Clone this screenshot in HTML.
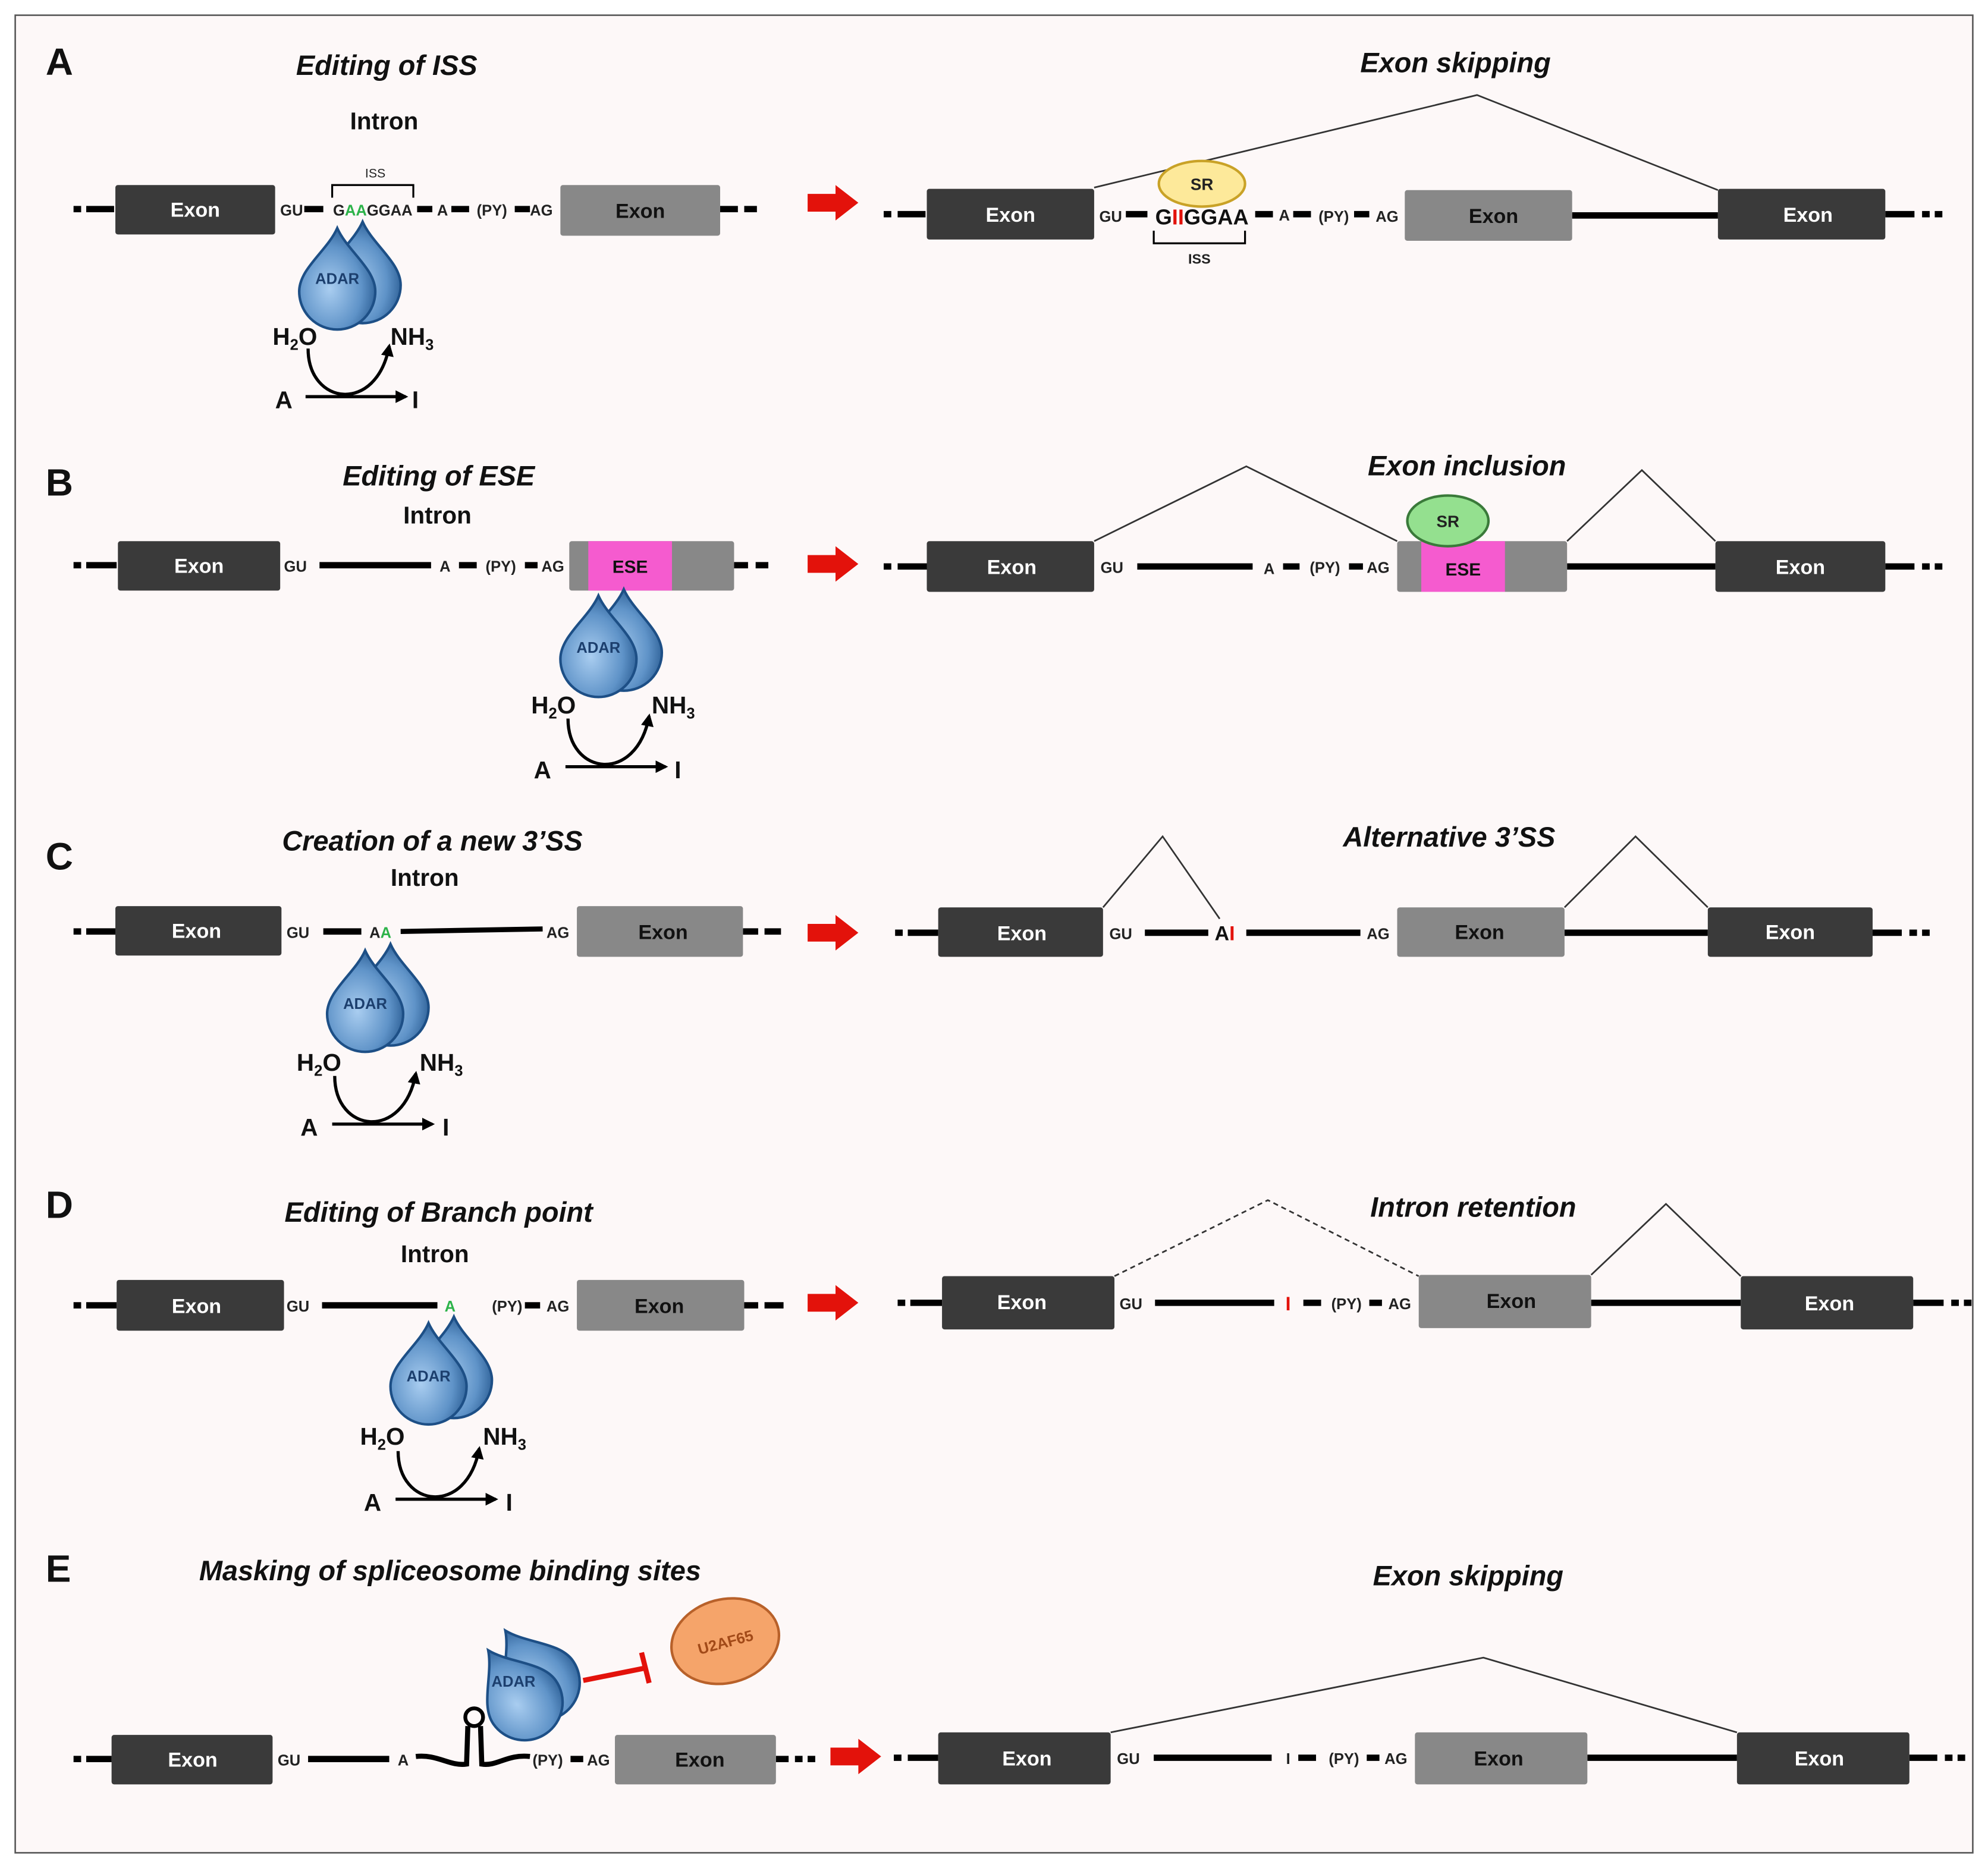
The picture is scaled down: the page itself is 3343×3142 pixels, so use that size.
<!DOCTYPE html>
<html><head><meta charset="utf-8"><style>
html,body{margin:0;padding:0;background:#fff;}
svg{display:block;}
text{font-family:"Liberation Sans",sans-serif;}
.t{font-weight:bold;font-style:italic;font-size:22px;text-anchor:middle;fill:#111;}
.h{font-weight:bold;font-size:19px;text-anchor:middle;fill:#111;}
.L{font-weight:bold;font-size:30px;fill:#111;}
.s{font-weight:bold;font-size:12px;text-anchor:middle;fill:#222;}
.ex{font-weight:bold;font-size:16px;text-anchor:middle;fill:#fff;}
.eg{font-weight:bold;font-size:16px;text-anchor:middle;fill:#111;}
.r{font-weight:bold;font-size:19px;fill:#111;}
.ad{font-weight:bold;font-size:12px;text-anchor:middle;fill:#1c3f6e;}
</style></head><body>
<svg width="3343" height="3142" viewBox="0 0 1568 1474" preserveAspectRatio="none" xmlns="http://www.w3.org/2000/svg">
<defs>
<radialGradient id="dg" cx="0.4" cy="0.6" r="0.7">
<stop offset="0" stop-color="#a9cdf0"/><stop offset="0.6" stop-color="#5f93c8"/><stop offset="1" stop-color="#1d4f86"/></radialGradient>
<path id="drop" d="M0,-40 C8,-22 30,-8 30,10 A30,30 0 1,1 -30,10 C-30,-8 -8,-22 0,-40 Z" fill="url(#dg)" stroke="#1d4f86" stroke-width="2"/>
<g id="adar"><use href="#drop" transform="translate(20,-5)"/><use href="#drop"/></g>
<marker id="ah" markerWidth="10" markerHeight="10" refX="8" refY="5" orient="auto" markerUnits="userSpaceOnUse"><path d="M0,0 L10,5 L0,10 Z" fill="#000"/></marker>
<g id="rx">
<line x1="16" y1="-2" x2="95" y2="-2" stroke="#000" stroke-width="2.5" marker-end="url(#ah)"/>
<path d="M18,-40 C18,5 72,12 82,-42" fill="none" stroke="#000" stroke-width="2.5" marker-end="url(#ah)"/>
</g>
<path id="rarr" d="M0,-7 L22,-7 L22,-14 L40,0 L22,14 L22,7 L0,7 Z" fill="#e3120b"/>
</defs>
<rect x="0" y="0" width="1568" height="1474" fill="#fff"/>
<rect x="12" y="12" width="1544" height="1450" fill="#fdf8f8" stroke="#555" stroke-width="1.2"/>

<g font-family="Liberation Sans">
<text class="L" x="36" y="59">A</text>
<text class="L" x="36" y="391">B</text>
<text class="L" x="36" y="686">C</text>
<text class="L" x="36" y="961">D</text>
<text class="L" x="36" y="1248">E</text>

<!-- ============ A ============ -->
<text class="t" x="305" y="59">Editing of ISS</text>
<text class="h" x="303" y="102">Intron</text>
<g stroke="#000" stroke-width="5">
<line x1="58" y1="165" x2="64" y2="165"/><line x1="68" y1="165" x2="90" y2="165"/>
<line x1="240" y1="165" x2="255" y2="165"/><line x1="329" y1="165" x2="341" y2="165"/>
<line x1="356" y1="165" x2="370" y2="165"/><line x1="406" y1="165" x2="418" y2="165"/>
<line x1="568" y1="165" x2="582" y2="165"/><line x1="587" y1="165" x2="597" y2="165"/>
</g>
<rect x="91" y="146" width="126" height="39" rx="2" fill="#3a3a3a"/><text class="ex" x="154" y="171">Exon</text>
<rect x="442" y="146" width="126" height="40" rx="2" fill="#888"/><text class="eg" x="505" y="172">Exon</text>
<use href="#adar" transform="translate(266,220)"/><text class="ad" x="266" y="224">ADAR</text>
<text class="s" x="230" y="170">GU</text>
<text class="s" x="294" y="170"><tspan>G</tspan><tspan fill="#2db34a">AA</tspan><tspan>GGAA</tspan></text>
<text class="s" x="349" y="170">A</text><text class="s" x="388" y="170">(PY)</text><text class="s" x="427" y="170">AG</text>
<path d="M262,156 V146 H326 V156" fill="none" stroke="#000" stroke-width="1.5"/>
<text class="s" x="296" y="140" style="font-size:10px;font-weight:normal">ISS</text>
<use href="#rx" transform="translate(225,315)"/>
<text class="r" x="217" y="322">A</text><text class="r" x="325" y="322">I</text>
<text class="r" x="215" y="272">H<tspan font-size="12" dy="4">2</tspan><tspan dy="-4">O</tspan></text>
<text class="r" x="308" y="272">NH<tspan font-size="12" dy="4">3</tspan></text>
<use href="#rarr" transform="translate(637,160)"/>

<text class="t" x="1148" y="57">Exon skipping</text>
<polyline points="863,148 1165,75 1355,150" fill="none" stroke="#333" stroke-width="1.3"/>
<g stroke="#000" stroke-width="5">
<line x1="697" y1="169" x2="703" y2="169"/><line x1="708" y1="169" x2="730" y2="169"/>
<line x1="888" y1="169" x2="905" y2="169"/><line x1="990" y1="169" x2="1004" y2="169"/>
<line x1="1020" y1="169" x2="1034" y2="169"/><line x1="1068" y1="169" x2="1080" y2="169"/>
<line x1="1240" y1="170" x2="1355" y2="170"/>
<line x1="1487" y1="169" x2="1510" y2="169"/><line x1="1516" y1="169" x2="1522" y2="169"/><line x1="1526" y1="169" x2="1532" y2="169"/>
</g>
<rect x="731" y="149" width="132" height="40" rx="2" fill="#3a3a3a"/><text class="ex" x="797" y="175">Exon</text>
<rect x="1108" y="150" width="132" height="40" rx="2" fill="#888"/><text class="eg" x="1178" y="176">Exon</text>
<rect x="1355" y="149" width="132" height="40" rx="2" fill="#3a3a3a"/><text class="ex" x="1426" y="175">Exon</text>
<text class="s" x="876" y="175">GU</text>
<text x="948" y="177" style="font-weight:bold;font-size:17px;text-anchor:middle;fill:#111">G<tspan fill="#e3120b">II</tspan>GGAA</text>
<text class="s" x="1013" y="174">A</text><text class="s" x="1052" y="175">(PY)</text><text class="s" x="1094" y="175">AG</text>
<path d="M910,182 V192 H982 V182" fill="none" stroke="#000" stroke-width="1.5"/>
<text class="s" x="946" y="208" style="font-size:11px">ISS</text>
<ellipse cx="948" cy="145" rx="34" ry="18" fill="#fde99a" stroke="#c9a227" stroke-width="2"/>
<text class="s" x="948" y="150" style="font-size:13px">SR</text>

<!-- ============ B ============ -->
<text class="t" x="346" y="383">Editing of ESE</text>
<text class="h" x="345" y="413">Intron</text>
<g stroke="#000" stroke-width="5">
<line x1="58" y1="446" x2="64" y2="446"/><line x1="68" y1="446" x2="92" y2="446"/>
<line x1="252" y1="446" x2="340" y2="446"/><line x1="362" y1="446" x2="376" y2="446"/>
<line x1="414" y1="446" x2="424" y2="446"/>
<line x1="579" y1="446" x2="590" y2="446"/><line x1="596" y1="446" x2="606" y2="446"/>
</g>
<rect x="93" y="427" width="128" height="39" rx="2" fill="#3a3a3a"/><text class="ex" x="157" y="452">Exon</text>
<rect x="449" y="427" width="130" height="39" rx="2" fill="#888"/>
<rect x="464" y="427" width="66" height="39" fill="#f55bcf"/><text class="eg" x="497" y="452" style="font-size:14px">ESE</text>
<text class="s" x="233" y="451">GU</text><text class="s" x="351" y="451">A</text>
<text class="s" x="395" y="451">(PY)</text><text class="s" x="436" y="451">AG</text>
<use href="#adar" transform="translate(472,510)"/><text class="ad" x="472" y="515">ADAR</text>
<use href="#rx" transform="translate(430,607)"/>
<text class="r" x="421" y="614">A</text><text class="r" x="532" y="614">I</text>
<text class="r" x="419" y="563">H<tspan font-size="12" dy="4">2</tspan><tspan dy="-4">O</tspan></text>
<text class="r" x="514" y="563">NH<tspan font-size="12" dy="4">3</tspan></text>
<use href="#rarr" transform="translate(637,445)"/>

<text class="t" x="1157" y="375">Exon inclusion</text>
<polyline points="863,427 983,368 1102,427" fill="none" stroke="#333" stroke-width="1.3"/>
<polyline points="1236,427 1295,371 1353,427" fill="none" stroke="#333" stroke-width="1.3"/>
<g stroke="#000" stroke-width="5">
<line x1="697" y1="447" x2="703" y2="447"/><line x1="708" y1="447" x2="731" y2="447"/>
<line x1="897" y1="447" x2="988" y2="447"/><line x1="1012" y1="447" x2="1025" y2="447"/>
<line x1="1064" y1="447" x2="1075" y2="447"/>
<line x1="1236" y1="447" x2="1353" y2="447"/>
<line x1="1487" y1="447" x2="1510" y2="447"/><line x1="1516" y1="447" x2="1522" y2="447"/><line x1="1526" y1="447" x2="1532" y2="447"/>
</g>
<rect x="731" y="427" width="132" height="40" rx="2" fill="#3a3a3a"/><text class="ex" x="798" y="453">Exon</text>
<rect x="1102" y="427" width="134" height="40" rx="2" fill="#888"/>
<rect x="1121" y="427" width="66" height="40" fill="#f55bcf"/><text class="eg" x="1154" y="454" style="font-size:14px">ESE</text>
<rect x="1353" y="427" width="134" height="40" rx="2" fill="#3a3a3a"/><text class="ex" x="1420" y="453">Exon</text>
<text class="s" x="877" y="452">GU</text><text class="s" x="1001" y="453">A</text>
<text class="s" x="1045" y="452">(PY)</text><text class="s" x="1087" y="452">AG</text>
<ellipse cx="1142" cy="411" rx="32" ry="20" fill="#94e08f" stroke="#3a7a3a" stroke-width="2"/>
<text class="s" x="1142" y="416" style="font-size:13px">SR</text>

<!-- ============ C ============ -->
<text class="t" x="341" y="671">Creation of a new 3’SS</text>
<text class="h" x="335" y="699">Intron</text>
<g stroke="#000" stroke-width="5">
<line x1="58" y1="735" x2="64" y2="735"/><line x1="68" y1="735" x2="91" y2="735"/>
<line x1="255" y1="735" x2="285" y2="735"/>
<line x1="586" y1="735" x2="598" y2="735"/><line x1="603" y1="735" x2="616" y2="735"/>
</g>
<line x1="316" y1="735" x2="428" y2="733" stroke="#000" stroke-width="4"/>
<rect x="91" y="715" width="131" height="39" rx="2" fill="#3a3a3a"/><text class="ex" x="155" y="740">Exon</text>
<rect x="455" y="715" width="131" height="40" rx="2" fill="#888"/><text class="eg" x="523" y="741">Exon</text>
<use href="#adar" transform="translate(288,790)"/><text class="ad" x="288" y="796">ADAR</text>
<text class="s" x="235" y="740">GU</text>
<text class="s" x="300" y="740">A<tspan fill="#2db34a">A</tspan></text>
<text class="s" x="440" y="740">AG</text>
<use href="#rx" transform="translate(246,889)"/>
<text class="r" x="237" y="896">A</text><text class="r" x="349" y="896">I</text>
<text class="r" x="234" y="845">H<tspan font-size="12" dy="4">2</tspan><tspan dy="-4">O</tspan></text>
<text class="r" x="331" y="845">NH<tspan font-size="12" dy="4">3</tspan></text>
<use href="#rarr" transform="translate(637,736)"/>

<text class="t" x="1143" y="668">Alternative 3’SS</text>
<polyline points="870,716 917,660 962,725" fill="none" stroke="#333" stroke-width="1.3"/>
<polyline points="1234,716 1290,660 1347,716" fill="none" stroke="#333" stroke-width="1.3"/>
<g stroke="#000" stroke-width="5">
<line x1="706" y1="736" x2="712" y2="736"/><line x1="716" y1="736" x2="740" y2="736"/>
<line x1="903" y1="736" x2="953" y2="736"/><line x1="983" y1="736" x2="1073" y2="736"/>
<line x1="1234" y1="736" x2="1347" y2="736"/>
<line x1="1477" y1="736" x2="1500" y2="736"/><line x1="1506" y1="736" x2="1512" y2="736"/><line x1="1516" y1="736" x2="1522" y2="736"/>
</g>
<rect x="740" y="716" width="130" height="39" rx="2" fill="#3a3a3a"/><text class="ex" x="806" y="742">Exon</text>
<rect x="1102" y="716" width="132" height="39" rx="2" fill="#888"/><text class="eg" x="1167" y="741">Exon</text>
<rect x="1347" y="716" width="130" height="39" rx="2" fill="#3a3a3a"/><text class="ex" x="1412" y="741">Exon</text>
<text class="s" x="884" y="741">GU</text>
<text x="966" y="742" style="font-weight:bold;font-size:16px;text-anchor:middle;fill:#111">A<tspan fill="#e3120b">I</tspan></text>
<text class="s" x="1087" y="741">AG</text>

<!-- ============ D ============ -->
<text class="t" x="346" y="964">Editing of Branch point</text>
<text class="h" x="343" y="996">Intron</text>
<g stroke="#000" stroke-width="5">
<line x1="58" y1="1030" x2="64" y2="1030"/><line x1="68" y1="1030" x2="92" y2="1030"/>
<line x1="254" y1="1030" x2="345" y2="1030"/><line x1="414" y1="1030" x2="426" y2="1030"/>
<line x1="587" y1="1030" x2="598" y2="1030"/><line x1="603" y1="1030" x2="618" y2="1030"/>
</g>
<rect x="92" y="1010" width="132" height="40" rx="2" fill="#3a3a3a"/><text class="ex" x="155" y="1036">Exon</text>
<rect x="455" y="1010" width="132" height="40" rx="2" fill="#888"/><text class="eg" x="520" y="1036">Exon</text>
<use href="#adar" transform="translate(338,1084)"/><text class="ad" x="338" y="1090">ADAR</text>
<text class="s" x="235" y="1035">GU</text>
<text class="s" x="355" y="1035" style="fill:#2db34a">A</text>
<text class="s" x="400" y="1035">(PY)</text><text class="s" x="440" y="1035">AG</text>
<use href="#rx" transform="translate(296,1185)"/>
<text class="r" x="287" y="1192">A</text><text class="r" x="399" y="1192">I</text>
<text class="r" x="284" y="1140">H<tspan font-size="12" dy="4">2</tspan><tspan dy="-4">O</tspan></text>
<text class="r" x="381" y="1140">NH<tspan font-size="12" dy="4">3</tspan></text>
<use href="#rarr" transform="translate(637,1028)"/>

<text class="t" x="1162" y="960">Intron retention</text>
<polyline points="879,1007 1000,947 1119,1007" fill="none" stroke="#333" stroke-width="1.3" stroke-dasharray="4,3"/>
<polyline points="1255,1006 1314,950 1373,1007" fill="none" stroke="#333" stroke-width="1.3"/>
<g stroke="#000" stroke-width="5">
<line x1="708" y1="1028" x2="714" y2="1028"/><line x1="718" y1="1028" x2="743" y2="1028"/>
<line x1="911" y1="1028" x2="1005" y2="1028"/><line x1="1028" y1="1028" x2="1042" y2="1028"/>
<line x1="1080" y1="1028" x2="1090" y2="1028"/>
<line x1="1255" y1="1028" x2="1373" y2="1028"/>
<line x1="1509" y1="1028" x2="1533" y2="1028"/><line x1="1539" y1="1028" x2="1545" y2="1028"/><line x1="1549" y1="1028" x2="1555" y2="1028"/>
</g>
<rect x="743" y="1007" width="136" height="42" rx="2" fill="#3a3a3a"/><text class="ex" x="806" y="1033">Exon</text>
<rect x="1119" y="1006" width="136" height="42" rx="2" fill="#888"/><text class="eg" x="1192" y="1032">Exon</text>
<rect x="1373" y="1007" width="136" height="42" rx="2" fill="#3a3a3a"/><text class="ex" x="1443" y="1034">Exon</text>
<text class="s" x="892" y="1033">GU</text>
<text class="s" x="1016" y="1034" style="fill:#e3120b;font-size:15px">I</text>
<text class="s" x="1062" y="1033">(PY)</text><text class="s" x="1104" y="1033">AG</text>

<!-- ============ E ============ -->
<text class="t" x="355" y="1247">Masking of spliceosome binding sites</text>
<g stroke="#000" stroke-width="5">
<line x1="58" y1="1388" x2="64" y2="1388"/><line x1="68" y1="1388" x2="88" y2="1388"/>
<line x1="243" y1="1388" x2="307" y2="1388"/><line x1="450" y1="1388" x2="460" y2="1388"/>
<line x1="612" y1="1388" x2="622" y2="1388"/><line x1="627" y1="1388" x2="633" y2="1388"/><line x1="637" y1="1388" x2="643" y2="1388"/>
</g>
<path d="M328,1386 C345,1384 355,1394 368,1392 L369,1362 M379,1362 L380,1392 C392,1394 400,1384 418,1386" fill="none" stroke="#000" stroke-width="4"/>
<circle cx="374" cy="1355" r="7" fill="none" stroke="#000" stroke-width="3"/>
<rect x="88" y="1369" width="127" height="39" rx="2" fill="#3a3a3a"/><text class="ex" x="152" y="1394">Exon</text>
<rect x="485" y="1369" width="127" height="39" rx="2" fill="#888"/><text class="eg" x="552" y="1394">Exon</text>
<text class="s" x="228" y="1393">GU</text><text class="s" x="318" y="1393">A</text>
<text class="s" x="432" y="1393">(PY)</text><text class="s" x="472" y="1393">AG</text>
<use href="#adar" transform="translate(408,1335) rotate(-35)"/><text class="ad" x="405" y="1331">ADAR</text>
<line x1="460" y1="1326" x2="510" y2="1316" stroke="#e3120b" stroke-width="4"/>
<line x1="506" y1="1304" x2="512" y2="1328" stroke="#e3120b" stroke-width="4"/>
<ellipse cx="572" cy="1295" rx="43" ry="33" transform="rotate(-15 572 1295)" fill="#f5a46a" stroke="#b8612a" stroke-width="2"/>
<text x="572" y="1300" transform="rotate(-15 572 1295)" style="font-weight:bold;font-size:12px;text-anchor:middle;fill:#a24a18">U2AF65</text>
<use href="#rarr" transform="translate(655,1386)"/>

<text class="t" x="1158" y="1251">Exon skipping</text>
<polyline points="876,1367 1170,1308 1370,1367" fill="none" stroke="#333" stroke-width="1.3"/>
<g stroke="#000" stroke-width="5">
<line x1="705" y1="1387" x2="711" y2="1387"/><line x1="716" y1="1387" x2="740" y2="1387"/>
<line x1="910" y1="1387" x2="1003" y2="1387"/><line x1="1024" y1="1387" x2="1038" y2="1387"/>
<line x1="1078" y1="1387" x2="1088" y2="1387"/>
<line x1="1252" y1="1387" x2="1370" y2="1387"/>
<line x1="1506" y1="1387" x2="1528" y2="1387"/><line x1="1534" y1="1387" x2="1540" y2="1387"/><line x1="1544" y1="1387" x2="1550" y2="1387"/>
</g>
<rect x="740" y="1367" width="136" height="41" rx="2" fill="#3a3a3a"/><text class="ex" x="810" y="1393">Exon</text>
<rect x="1116" y="1367" width="136" height="41" rx="2" fill="#888"/><text class="eg" x="1182" y="1393">Exon</text>
<rect x="1370" y="1367" width="136" height="41" rx="2" fill="#3a3a3a"/><text class="ex" x="1435" y="1393">Exon</text>
<text class="s" x="890" y="1392">GU</text><text class="s" x="1016" y="1392">I</text>
<text class="s" x="1060" y="1392">(PY)</text><text class="s" x="1101" y="1392">AG</text>
</g>
</svg>
</body></html>
